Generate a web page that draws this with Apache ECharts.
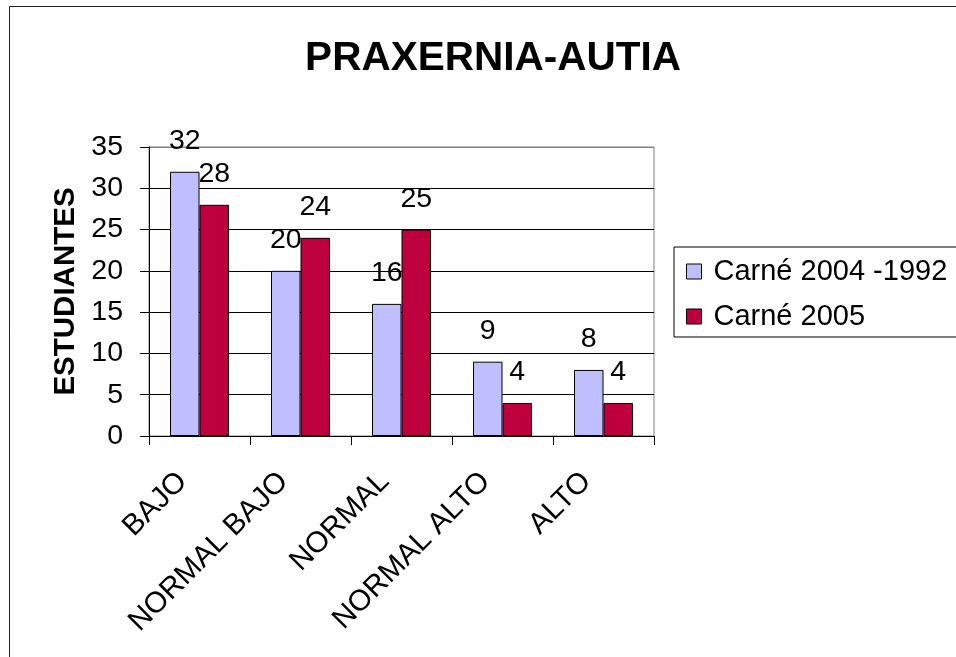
<!DOCTYPE html>
<html>
<head>
<meta charset="utf-8">
<script src="https://cdn.jsdelivr.net/npm/echarts@6/dist/echarts.min.js"></script>
<style>
  html, body { margin: 0; padding: 0; background: #fff; }
  #chart { width: 956px; height: 657px; }
</style>
</head>
<body>
<div id="chart"></div>
<script>
// datos
const categories = ['BAJO', 'NORMAL BAJO', 'NORMAL', 'NORMAL ALTO', 'ALTO'];
const carne2004 = [32, 20, 16, 9, 8];
const carne2005 = [28, 24, 25, 4, 4];
const seriesNames = ['Carné 2004 -1992', 'Carné 2005'];
const yMin = 0, yMax = 35, yStep = 5;

const font = "'Liberation Sans', Arial, sans-serif";
const chart = echarts.init(document.getElementById('chart'));

// gridlines negras, la de arriba gris (borde del area)
const splitColors = [];
for (let v = yMin; v <= yMax; v += yStep) splitColors.push(v === yMax ? '#808080' : '#000');

const valueLabel = {
  show: true,
  position: 'top',
  distance: 16,
  color: '#000',
  fontSize: 28.5,
  fontFamily: font
};

const option = {
  animation: false,
  backgroundColor: '#fff',
  graphic: [{
    type: 'rect',
    shape: { x: 9.5, y: 6.5, width: 1000, height: 700 },
    style: { fill: 'none', stroke: '#222', lineWidth: 1 },
    z: 100
  }],
  title: {
    text: 'PRAXERNIA-AUTIA',
    left: 488,
    top: 33,
    textAlign: 'center',
    textStyle: { fontFamily: font, fontSize: 40.5, fontWeight: 'bold', color: '#000' }
  },
  legend: {
    orient: 'vertical',
    left: 674,
    top: 247,
    padding: [10, 40, 6, 12],
    itemGap: 16,
    itemWidth: 15,
    itemHeight: 15,
    icon: 'rect',
    borderColor: '#000',
    borderWidth: 1,
    itemStyle: { borderColor: '#000', borderWidth: 1 },
    textStyle: { fontFamily: font, fontSize: 29, color: '#000', padding: [0, 0, 0, 7] },
    data: seriesNames
  },
  grid: {
    left: 149,
    right: 302,
    top: 147,
    bottom: 221,
    show: true,
    borderColor: '#808080',
    borderWidth: 1,
    outerBoundsMode: 'none'
  },
  xAxis: {
    type: 'category',
    data: categories,
    axisLine: { lineStyle: { color: '#000', width: 1 } },
    axisTick: { show: true, length: 9, lineStyle: { color: '#000' } },
    axisLabel: {
      interval: 0,
      rotate: 45,
      margin: 24,
      padding: [0, 24, 0, 0],
      color: '#000',
      fontSize: 29.5,
      fontFamily: font
    }
  },
  yAxis: {
    type: 'value',
    min: yMin,
    max: yMax,
    interval: yStep,
    name: 'ESTUDIANTES',
    nameLocation: 'middle',
    nameRotate: 90,
    nameGap: 48,
    nameTextStyle: { fontFamily: font, fontSize: 29.5, fontWeight: 'bold', color: '#000' },
    axisLine: { show: true, lineStyle: { color: '#000', width: 1 } },
    axisTick: { show: true, length: 9, lineStyle: { color: '#000' } },
    axisLabel: { margin: 26, color: '#000', fontSize: 28.5, fontFamily: font },
    splitLine: { show: true, lineStyle: { color: splitColors, width: 1 } }
  },
  series: [
    {
      name: seriesNames[0],
      type: 'bar',
      data: carne2004,
      barWidth: 29.5,
      barGap: '0%',
      itemStyle: { color: '#BFBFFF', borderColor: '#000', borderWidth: 1 },
      label: valueLabel
    },
    {
      name: seriesNames[1],
      type: 'bar',
      data: carne2005,
      barWidth: 29.5,
      barGap: '0%',
      itemStyle: { color: '#BF003F', borderColor: '#000', borderWidth: 1 },
      label: valueLabel
    }
  ]
};

chart.setOption(option);
</script>
</body>
</html>
